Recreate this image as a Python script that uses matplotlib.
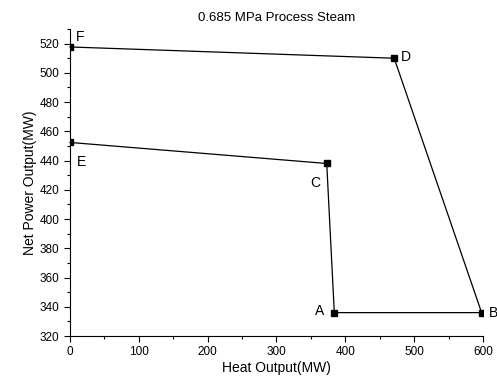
import matplotlib
matplotlib.use('Agg')
import matplotlib.pyplot as plt
from matplotlib.ticker import MultipleLocator

plt.rcParams['font.family'] = ['Liberation Sans', 'DejaVu Sans']

# Operating region (path E-C-A-B-D-F)
labels = ['E', 'C', 'A', 'B', 'D', 'F']
heat = [0, 373, 384, 598, 471, 0]
power = [452.4, 438, 336, 336, 510, 517.7]

# label offsets (points)
offsets = {'E': (5, -14), 'C': (-12, -14), 'A': (-14, 1), 'B': (5, 0),
           'D': (5, 1), 'F': (4, 2)}

fig = plt.figure(figsize=(4.97, 3.86), dpi=100)
ax = fig.add_axes([0.1408, 0.1295, 0.831, 0.7954])

ax.plot(heat, power, '-', color='black', lw=0.9, clip_on=False, zorder=3)
ax.plot(heat, power, 's', color='black', ms=5, zorder=4)

for lab, x, y in zip(labels, heat, power):
    ax.annotate(lab, (x, y), xytext=offsets[lab], textcoords='offset points',
                fontsize=10, ha='left', va='bottom' if lab == 'F' else 'center')

ax.set_xlim(0, 600)
ax.set_ylim(320, 530)
ax.xaxis.set_major_locator(MultipleLocator(100))
ax.xaxis.set_minor_locator(MultipleLocator(50))
ax.yaxis.set_minor_locator(MultipleLocator(10))
ax.set_yticks(range(320, 521, 20))

ax.spines['top'].set_visible(False)
ax.spines['right'].set_visible(False)
ax.tick_params(which='major', direction='out', length=4, width=0.8, labelsize=8.5)
ax.tick_params(which='minor', direction='out', length=2.5, width=0.8)

ax.set_xlabel('Heat Output(MW)', fontsize=10, labelpad=2)
ax.set_ylabel('Net Power Output(MW)', fontsize=10, labelpad=2)
ax.set_title('0.685 MPa Process Steam', fontsize=9.5, pad=6)

fig.savefig('out.png', dpi=100)
